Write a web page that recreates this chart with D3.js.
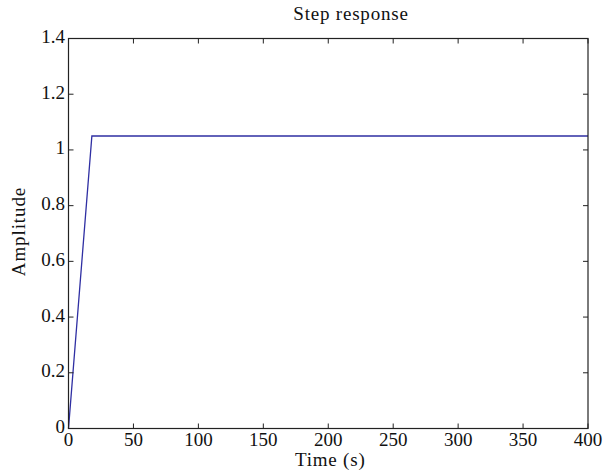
<!DOCTYPE html>
<html>
<head>
<meta charset="utf-8">
<script src="https://cdn.jsdelivr.net/npm/d3@7"></script>
<style>
  html, body { margin: 0; padding: 0; background: #fff; }
  svg { display: block; }
  text { font-family: "Liberation Serif", "DejaVu Serif", serif; fill: #111; }
</style>
</head>
<body>
<svg id="chart" width="608" height="472"></svg>
<script>
// Data
const timeValues = [0, 18, 400];
const amplitudeValues = [0, 1.05, 1.05];
const xTicks = [0, 50, 100, 150, 200, 250, 300, 350, 400];
const yTicks = [0, 0.2, 0.4, 0.6, 0.8, 1, 1.2, 1.4];
const titleText = "Step response";
const xLabelText = "Time (s)";
const yLabelText = "Amplitude";

const svg = d3.select("#chart");
const margin = { left: 68.5, right: 608 - 588, top: 38.5, bottom: 472 - 428.5 };
const W = 608, H = 472;
const x0 = margin.left, x1 = W - margin.right, y0 = H - margin.bottom, y1 = margin.top;

const x = d3.scaleLinear().domain([0, 400]).range([x0, x1]);
const y = d3.scaleLinear().domain([0, 1.4]).range([y0, y1]);

const fmt = d => (d === 0 || d === 1) ? String(d) : String(d);
const tickLen = 5;
const axisColor = "#222";

// Data line
svg.append("path")
  .datum(timeValues.map((t, i) => [t, amplitudeValues[i]]))
  .attr("fill", "none")
  .attr("stroke", "#2f2fa3")
  .attr("stroke-width", 1.3)
  .attr("d", d3.line().x(d => x(d[0])).y(d => y(d[1])));

// Ticks (inward, mirrored on all sides)
const ticks = svg.append("g").attr("stroke", axisColor).attr("stroke-width", 1);
xTicks.forEach(t => {
  ticks.append("line").attr("x1", x(t)).attr("x2", x(t)).attr("y1", y0).attr("y2", y0 - tickLen);
  ticks.append("line").attr("x1", x(t)).attr("x2", x(t)).attr("y1", y1).attr("y2", y1 + tickLen);
});
yTicks.forEach(t => {
  ticks.append("line").attr("x1", x0).attr("x2", x0 + tickLen).attr("y1", y(t)).attr("y2", y(t));
  ticks.append("line").attr("x1", x1).attr("x2", x1 - tickLen).attr("y1", y(t)).attr("y2", y(t));
});

// Box
svg.append("rect")
  .attr("x", x0).attr("y", y1)
  .attr("width", x1 - x0).attr("height", y0 - y1)
  .attr("fill", "none").attr("stroke", axisColor).attr("stroke-width", 1.2);

// Tick labels
svg.append("g").selectAll("text").data(xTicks).join("text")
  .attr("x", d => x(d)).attr("y", y0 + 17.5)
  .attr("text-anchor", "middle")
  .attr("font-size", 19)
  .text(d => fmt(d));

svg.append("g").selectAll("text").data(yTicks).join("text")
  .attr("x", x0 - 3.5).attr("y", d => y(d) + 4.5)
  .attr("text-anchor", "end")
  .attr("font-size", 19)
  .text(d => fmt(d));

// Title
svg.append("text")
  .attr("x", 351).attr("y", 20)
  .attr("text-anchor", "middle")
  .attr("font-size", 19)
  .attr("letter-spacing", 0.8)
  .text(titleText);

// X label
svg.append("text")
  .attr("x", (x0 + x1) / 2 + 2).attr("y", 466)
  .attr("text-anchor", "middle")
  .attr("font-size", 19)
  .attr("letter-spacing", 0.8)
  .text(xLabelText);

// Y label
svg.append("text")
  .attr("transform", `translate(25, ${(y0 + y1) / 2 - 2}) rotate(-90)`)
  .attr("text-anchor", "middle")
  .attr("font-size", 19)
  .attr("letter-spacing", 0.9)
  .text(yLabelText);
</script>
</body>
</html>
